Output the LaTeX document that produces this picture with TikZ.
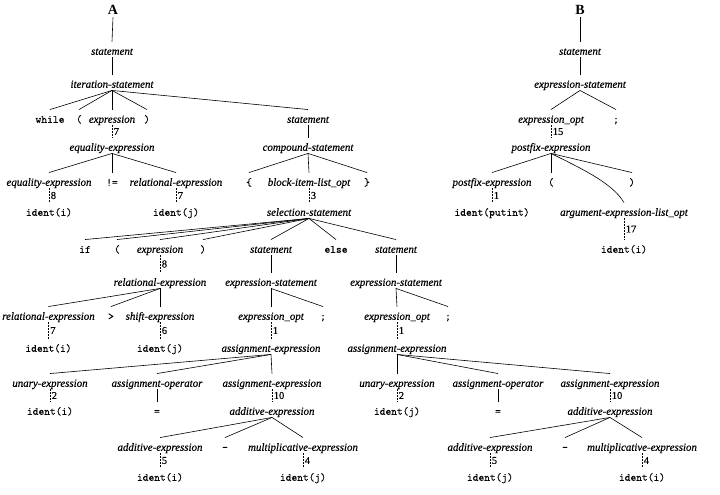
\documentclass[tikz,border=0pt]{standalone}
\usepackage{fontspec}
\setmainfont{Liberation Serif}
\newfontfamily\ntfont{Liberation Serif}[FakeBold=0.35]
\newfontfamily\tmfont{lmmono10-regular.otf}[FakeBold=0.4]
\begin{document}
\begin{tikzpicture}[x=1pt,y=-1pt,
  base/.style={text height=8pt,text depth=2.5pt,inner sep=0pt},
  nt/.style={base,font=\ntfont\fontsize{10.9}{13}\selectfont\itshape},
  tm/.style={base,font=\tmfont\fontsize{11}{13}\selectfont},
  ttl/.style={base,font=\fontsize{14}{16}\selectfont\bfseries},
  edge/.style={line width=0.6pt},
  dedge/.style={line width=0.6pt,dash pattern=on 1.6pt off 1.4pt},
  num/.style={font=\ntfont\fontsize{10.5}{12}\selectfont,anchor=west,inner sep=1.5pt}]
\useasboundingbox (0,0) rectangle (720,495);
\newcommand\tlink[2]{\draw[edge] (#1.south) -- ([yshift=5pt]#2.north);}
\newcommand\dlink[3]{\draw[dedge] (#1.south) -- node[num]{#3} ([yshift=5pt]#2.north);}
% ---------------- Tree A ----------------
\node[ttl] (A) at (113,12) {A};
\node[nt] (sA) at (112,52) {statement};
\node[nt] (itA) at (112,85) {iteration-statement};
\node[tm] (wh) at (50,120) {while};
\node[tm] (lp1) at (79,120) {(};
\node[nt] (ex1) at (112,120) {expression};
\node[tm] (rp1) at (147,120) {)};
\node[nt] (st1) at (308,120) {statement};
\node[nt] (eq1) at (112,148) {equality-expression};
\node[nt] (cs) at (308,148) {compound-statement};
\node[nt] (eq2) at (49,183) {equality-expression};
\node[tm] (ne) at (112,183) {!=};
\node[nt] (re1) at (176,183) {relational-expression};
\node[tm] (lb) at (249,183) {\{};
\node[nt] (bil) at (309,183) {block-item-list\_opt};
\node[tm] (rb) at (367,183) {\}};
\node[tm] (id1) at (49,213) {ident(i)};
\node[tm] (id2) at (176,213) {ident(j)};
\node[nt] (ss) at (309,213) {selection-statement};
\node[tm] (if) at (85,250) {if};
\node[tm] (lp2) at (117,250) {(};
\node[nt] (ex2) at (160,250) {expression};
\node[tm] (rp2) at (203,250) {)};
\node[nt] (st2) at (271,250) {statement};
\node[tm] (el) at (336,250) {else};
\node[nt] (st3) at (396,250) {statement};
\node[nt] (re2) at (160,283) {relational-expression};
\node[nt] (es1) at (271,283) {expression-statement};
\node[nt] (es2) at (396,283) {expression-statement};
\node[nt] (re3) at (48.5,317) {relational-expression};
\node[tm] (gt) at (111,317) {>};
\node[nt] (sh) at (160,317) {shift-expression};
\node[nt] (eo1) at (271,317) {expression\_opt};
\node[tm] (sc1) at (323,317) {;};
\node[nt] (eo2) at (397,317) {expression\_opt};
\node[tm] (sc2) at (448,317) {;};
\node[tm] (id3) at (48.5,349) {ident(i)};
\node[tm] (id4) at (160,349) {ident(j)};
\node[nt] (ae1) at (271,349) {assignment-expression};
\node[nt] (ae2) at (397,349) {assignment-expression};
\node[nt] (ue1) at (50,384) {unary-expression};
\node[nt] (ao1) at (157,384) {assignment-operator};
\node[nt] (ae3) at (272,384) {assignment-expression};
\node[nt] (ue2) at (397,384) {unary-expression};
\node[nt] (ao2) at (498,384) {assignment-operator};
\node[nt] (ae4) at (610,384) {assignment-expression};
\node[tm] (id5) at (50,412) {ident(i)};
\node[tm] (eqs1) at (157,412) {=};
\node[nt] (ad1) at (272,412) {additive-expression};
\node[tm] (id6) at (397,412) {ident(j)};
\node[tm] (eqs2) at (498,412) {=};
\node[nt] (ad2) at (610,412) {additive-expression};
\node[nt] (ad3) at (160,448) {additive-expression};
\node[tm] (mi1) at (225,448) {-};
\node[nt] (mu1) at (303,448) {multiplicative-expression};
\node[nt] (ad4) at (490,448) {additive-expression};
\node[tm] (mi2) at (565,448) {-};
\node[nt] (mu2) at (642,448) {multiplicative-expression};
\node[tm] (id7) at (160,478) {ident(i)};
\node[tm] (id8) at (303,478) {ident(j)};
\node[tm] (id9) at (490,478) {ident(j)};
\node[tm] (id10) at (642,478) {ident(i)};
% edges A
\tlink{A}{sA}
\tlink{sA}{itA}
\tlink{itA}{wh}\tlink{itA}{lp1}\tlink{itA}{ex1}\tlink{itA}{rp1}\tlink{itA}{st1}
\dlink{ex1}{eq1}{7}
\tlink{st1}{cs}
\tlink{eq1}{eq2}\tlink{eq1}{ne}\tlink{eq1}{re1}
\tlink{cs}{lb}\tlink{cs}{bil}\tlink{cs}{rb}
\dlink{eq2}{id1}{8}
\dlink{re1}{id2}{7}
\dlink{bil}{ss}{3}
\tlink{ss}{if}\tlink{ss}{lp2}\tlink{ss}{ex2}\tlink{ss}{rp2}\tlink{ss}{st2}\tlink{ss}{el}\tlink{ss}{st3}
\dlink{ex2}{re2}{8}
\tlink{st2}{es1}
\tlink{st3}{es2}
\tlink{re2}{re3}\tlink{re2}{gt}\tlink{re2}{sh}
\tlink{es1}{eo1}\tlink{es1}{sc1}
\tlink{es2}{eo2}\tlink{es2}{sc2}
\dlink{re3}{id3}{7}
\dlink{sh}{id4}{6}
\dlink{eo1}{ae1}{1}
\dlink{eo2}{ae2}{1}
\tlink{ae1}{ue1}\tlink{ae1}{ao1}\tlink{ae1}{ae3}
\tlink{ae2}{ue2}\tlink{ae2}{ao2}\tlink{ae2}{ae4}
\dlink{ue1}{id5}{2}
\tlink{ao1}{eqs1}
\dlink{ae3}{ad1}{10}
\dlink{ue2}{id6}{2}
\tlink{ao2}{eqs2}
\dlink{ae4}{ad2}{10}
\tlink{ad1}{ad3}\tlink{ad1}{mi1}\tlink{ad1}{mu1}
\tlink{ad2}{ad4}\tlink{ad2}{mi2}\tlink{ad2}{mu2}
\dlink{ad3}{id7}{5}
\dlink{mu1}{id8}{4}
\dlink{ad4}{id9}{5}
\dlink{mu2}{id10}{4}
% ---------------- Tree B ----------------
\node[ttl] (B) at (580,12) {B};
\node[nt] (sB) at (580,52) {statement};
\node[nt] (esB) at (580,85) {expression-statement};
\node[nt] (eoB) at (551,120) {expression\_opt};
\node[tm] (scB) at (616,120) {;};
\node[nt] (pf1) at (551,148) {postfix-expression};
\node[nt] (pf2) at (492,183) {postfix-expression};
\node[tm] (lpB) at (551,183) {(};
\node[tm] (rpB) at (632,183) {)};
\node[tm] (idp) at (492,213) {ident(putint)};
\node[nt] (arg) at (624,213) {argument-expression-list\_opt};
\node[tm] (idB) at (624,250) {ident(i)};
\tlink{B}{sB}
\tlink{sB}{esB}
\tlink{esB}{eoB}\tlink{esB}{scB}
\dlink{eoB}{pf1}{15}
\tlink{pf1}{pf2}\tlink{pf1}{lpB}\tlink{pf1}{rpB}
\draw[edge] (pf1.south) .. controls +(30,15) and +(-12,-20) .. ([yshift=5pt]arg.north);
\dlink{pf2}{idp}{1}
\dlink{arg}{idB}{17}
\end{tikzpicture}
\end{document}
